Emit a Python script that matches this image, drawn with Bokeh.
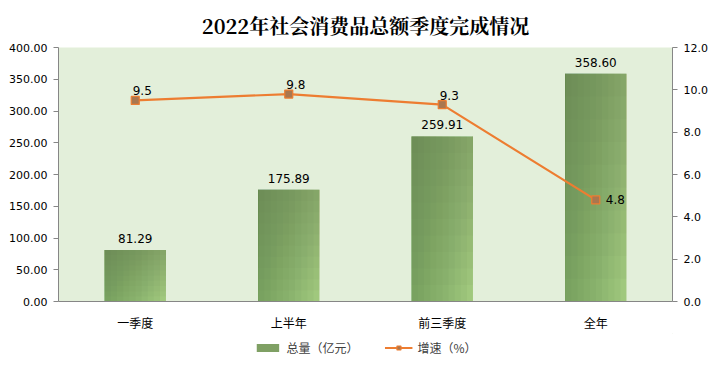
from bokeh.plotting import figure
from bokeh.layouts import column
from bokeh.models import (ColumnDataSource, Range1d, LinearAxis, LabelSet, Legend, LegendItem,
                          NumeralTickFormatter, FixedTicker, FactorRange)
from bokeh.transform import dodge
from bokeh.core.properties import value
from bokeh.embed import file_html
from bokeh.resources import INLINE

categories = ["一季度", "上半年", "前三季度", "全年"]
totals = [81.29, 175.89, 259.91, 358.60]
growth = [9.5, 9.8, 9.3, 4.8]
total_labels = ["81.29", "175.89", "259.91", "358.60"]
growth_labels = ["9.5", "9.8", "9.3", "4.8"]
legend_labels = ["总量（亿元）", "增速（%）"]

BAR_W = 0.4
BG = "#E3EFDA"
LIGHT = "#A4CD80"
DARK = "#5C7A4A"
ORANGE = "#ED7D31"
MARK_FILL = "#A9774F"

p = figure(frame_width=614, frame_height=254, x_range=FactorRange(*categories), y_range=Range1d(0, 400),
           output_backend="svg", toolbar_location=None, min_border_left=58,
           min_border_right=46, min_border_bottom=32, min_border_top=10)
p.extra_y_ranges = {"pct": Range1d(0, 12)}

p.title.text = "2022年社会消费品总额季度完成情况"
p.title.align = "center"
p.title.text_font = "Noto Serif CJK SC, Noto Sans CJK SC"
p.title.text_font_size = "20px"
p.title.text_font_style = "bold"
p.title.text_color = "#000000"
p.title.standoff = 16

p.background_fill_color = BG
p.border_fill_color = "white"
p.outline_line_color = None
p.xgrid.grid_line_color = None
p.ygrid.grid_line_color = None

src = ColumnDataSource(dict(cat=categories, total=totals, growth=growth,
                            tl=total_labels, gl=growth_labels))
p.vbar(x="cat", top="total", width=BAR_W, source=src, fill_color=LIGHT, line_color=None)
n = 10
for i in range(1, n + 1):
    frac = i / n
    w = BAR_W * (1 - frac) + 0.001
    off = -BAR_W / 2 + w / 2
    p.vbar(x=dodge("cat", off, range=p.x_range), top="total", width=w, source=src,
           fill_color=DARK, fill_alpha=0.07, line_color=None)
for i in range(1, n + 1):
    f = 1 - i / n
    vs = ColumnDataSource(dict(cat=categories, top=totals, bot=[t * f for t in totals]))
    p.vbar(x="cat", top="top", bottom="bot", width=BAR_W, source=vs,
           fill_color=DARK, fill_alpha=0.05, line_color=None)

p.line(x="cat", y="growth", source=src, y_range_name="pct", line_color=ORANGE, line_width=2.2)
p.scatter(x="cat", y="growth", source=src, y_range_name="pct", marker="square", size=8,
          fill_color=MARK_FILL, line_color=ORANGE, line_width=1.2)

lbl_font = value("DejaVu Sans")
p.add_layout(LabelSet(x="cat", y="total", text="tl", source=src, text_align="center",
                      text_baseline="bottom", y_offset=7, text_font_size=value("12px"),
                      text_font=lbl_font, text_color="#000000"))
gsrc = ColumnDataSource(dict(cat=categories[:3], g=growth[:3], gl=growth_labels[:3]))
p.add_layout(LabelSet(x="cat", y="g", text="gl", source=gsrc, y_range_name="pct",
                      text_align="center", text_baseline="bottom", x_offset=7, y_offset=5,
                      text_font_size=value("12px"), text_font=lbl_font, text_color="#000000"))
gsrc2 = ColumnDataSource(dict(cat=categories[3:], g=growth[3:], gl=growth_labels[3:]))
p.add_layout(LabelSet(x="cat", y="g", text="gl", source=gsrc2, y_range_name="pct",
                      text_align="left", text_baseline="middle", x_offset=10,
                      text_font_size=value("12px"), text_font=lbl_font, text_color="#000000"))

AX = "#868686"
yl = p.yaxis[0]
yl.ticker = FixedTicker(ticks=list(range(0, 401, 50)))
yl.formatter = NumeralTickFormatter(format="0.00")
yr = LinearAxis(y_range_name="pct", ticker=FixedTicker(ticks=list(range(0, 13, 2))),
                formatter=NumeralTickFormatter(format="0.0"))
p.add_layout(yr, "right")
for ax in (yl, yr):
    ax.axis_line_color = AX
    ax.major_tick_line_color = AX
    ax.major_tick_out = 5
    ax.major_tick_in = 0
    ax.minor_tick_line_color = None
    ax.major_label_text_font = "DejaVu Sans"
    ax.major_label_text_font_size = "11px"
    ax.major_label_text_color = "#000000"
    ax.major_label_standoff = 6
xa = p.xaxis[0]
xa.axis_line_color = AX
xa.major_tick_line_color = None
xa.minor_tick_line_color = None
xa.major_label_text_font = "Noto Sans CJK SC"
xa.major_label_text_font_size = "12px"
xa.major_label_text_color = "#000000"
xa.major_label_standoff = 6

# legend strip as a separate small figure (legend glyphs use off-screen dummy renderers)
p2 = figure(width=718, height=28, x_range=Range1d(0, 1), y_range=Range1d(0, 1),
            output_backend="svg", toolbar_location=None, min_border=0)
p2.axis.visible = False
p2.grid.visible = False
p2.outline_line_color = None
bar_leg = p2.vbar(x=[5], top=[5], bottom=[4], width=0.1, fill_color="#7FA064", line_color=None)
ln_leg = p2.line(x=[5, 6], y=[5, 5], line_color=ORANGE, line_width=2.2)
mk_leg = p2.scatter(x=[5], y=[5], marker="square", size=8, fill_color=MARK_FILL,
                    line_color=ORANGE, line_width=1.2)
legend = Legend(items=[LegendItem(label=legend_labels[0], renderers=[bar_leg]),
                       LegendItem(label=legend_labels[1], renderers=[ln_leg, mk_leg])],
                orientation="horizontal", location="center", glyph_width=28, glyph_height=10,
                label_text_font="Noto Sans CJK SC", label_text_font_size="12px",
                label_text_color="#404040",
                border_line_color=None, background_fill_alpha=0, spacing=26, padding=2, margin=0)
p2.add_layout(legend)

layout = column(p, p2, spacing=0)
open("out.html", "w").write(file_html(layout, INLINE))
